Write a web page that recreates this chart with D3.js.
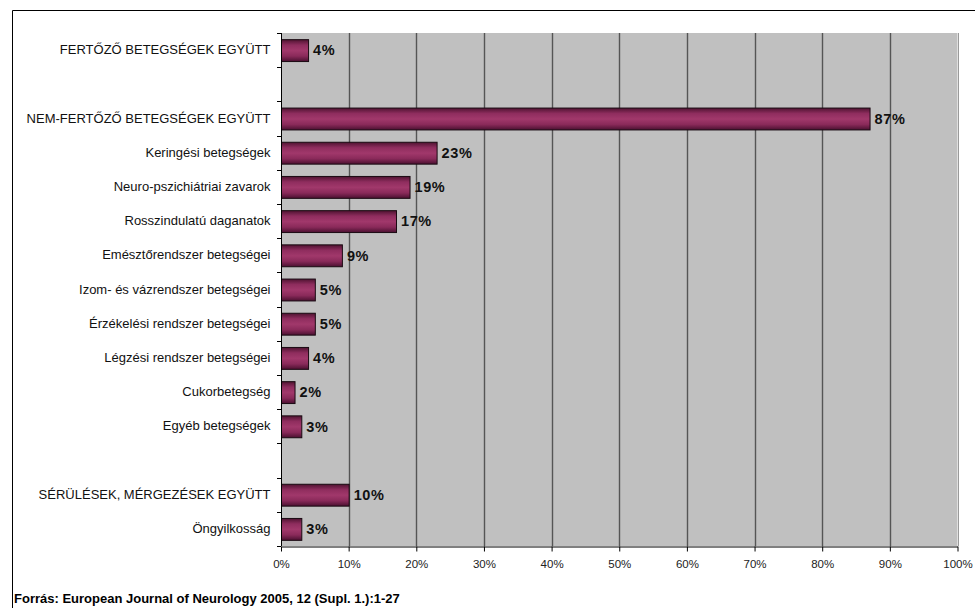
<!DOCTYPE html>
<html>
<head>
<meta charset="utf-8">
<script src="https://cdn.jsdelivr.net/npm/d3@7"></script>
<style>
	body { margin: 0; background: #fff; }
	svg { display: block; font-family: "Liberation Sans", Arial, sans-serif; }
</style>
</head>
<body>
<div id="chart"></div>
<script>
// categories (empty strings are the spacer rows of the original)
var categories = [
	'FERTŐZŐ BETEGSÉGEK EGYÜTT',
	'',
	'NEM-FERTŐZŐ BETEGSÉGEK EGYÜTT',
	'Keringési betegségek',
	'Neuro-pszichiátriai zavarok',
	'Rosszindulatú daganatok',
	'Emésztőrendszer betegségei',
	'Izom- és vázrendszer betegségei',
	'Érzékelési rendszer betegségei',
	'Légzési rendszer betegségei',
	'Cukorbetegség',
	'Egyéb betegségek',
	'',
	'SÉRÜLÉSEK, MÉRGEZÉSEK EGYÜTT',
	'Öngyilkosság'
];
var values = [4, null, 87, 23, 19, 17, 9, 5, 5, 4, 2, 3, null, 10, 3];
var xTicks = [0, 10, 20, 30, 40, 50, 60, 70, 80, 90, 100];
var sourceText = 'Forrás: European Journal of Neurology 2005, 12 (Supl. 1.):1-27';

const width = 975, height = 608;
const plot = {left: 281, right: 957.5, top: 33, bottom: 546};

const svg = d3.select('#chart').append('svg')
	.attr('width', width).attr('height', height);

// bar gradient (3d look of the original)
const grad = svg.append('defs').append('linearGradient')
	.attr('id', 'barGrad').attr('x1', 0).attr('y1', 0).attr('x2', 0).attr('y2', 1);
grad.append('stop').attr('offset', '0%').attr('stop-color', '#4f1331');
grad.append('stop').attr('offset', '25%').attr('stop-color', '#8f2d5e');
grad.append('stop').attr('offset', '50%').attr('stop-color', '#a1386b');
grad.append('stop').attr('offset', '75%').attr('stop-color', '#8a2a5a');
grad.append('stop').attr('offset', '100%').attr('stop-color', '#4a1030');

// outer frame
svg.append('path')
	.attr('d', 'M12.5,' + height + 'V10.5H' + width)
	.attr('fill', 'none').attr('stroke', '#000').attr('stroke-width', 1);

const x = d3.scaleLinear().domain([0, 100]).range([plot.left, plot.right]);
const y = d3.scaleBand()
	.domain(d3.range(categories.length))
	.range([plot.top, plot.bottom])
	.paddingInner(0.36).paddingOuter(0.18);

// plot background
svg.append('rect')
	.attr('x', plot.left).attr('y', plot.top)
	.attr('width', plot.right - plot.left).attr('height', plot.bottom - plot.top)
	.attr('fill', '#c0c0c0');

// gridlines
svg.append('g')
	.selectAll('line').data(xTicks.slice(1)).enter().append('line')
	.attr('x1', d => Math.round(x(d)) + 0.5).attr('x2', d => Math.round(x(d)) + 0.5)
	.attr('y1', plot.top).attr('y2', plot.bottom)
	.attr('stroke', d => d === 100 ? '#9a9a9a' : '#555')
	.attr('stroke-width', d => d === 100 ? 1 : 1.4);

// bars
const rows = categories.map((c, i) => ({i: i, name: c, value: values[i]}))
	.filter(d => d.value != null);

svg.append('g')
	.selectAll('rect').data(rows).enter().append('rect')
	.attr('x', x(0) + 0.5)
	.attr('y', d => y(d.i) + 0.5)
	.attr('width', d => x(d.value) - x(0))
	.attr('height', y.bandwidth())
	.attr('fill', 'url(#barGrad)')
	.attr('stroke', '#1a0a12').attr('stroke-width', 1);

// value labels
svg.append('g')
	.selectAll('text').data(rows).enter().append('text')
	.attr('x', d => x(d.value) + 5)
	.attr('y', d => y(d.i) + y.bandwidth() / 2)
	.attr('dy', '0.36em')
	.attr('font-size', 14.5).attr('font-weight', 'bold')
	.attr('letter-spacing', 0.6)
	.attr('fill', '#111')
	.text(d => d.value + '%');

// y axis
const yAxis = g => g
	.attr('transform', `translate(${plot.left + 0.5}, 0)`)
	.call(d3.axisLeft(y).tickSize(0).tickPadding(11).tickFormat(i => categories[i]))
	.call(g => g.select('.domain').attr('stroke', '#000').attr('d', `M0,${plot.top}V${plot.bottom}`))
	.call(g => g.selectAll('text').attr('font-size', 13).attr('fill', '#111')
		.attr('font-family', '"Liberation Sans", Arial, sans-serif'));
svg.append('g').call(yAxis);

// category separator ticks
const sepTicks = d3.range(categories.length + 1);
const step = (plot.bottom - plot.top) / categories.length;
svg.append('g')
	.selectAll('line').data(sepTicks).enter().append('line')
	.attr('x1', plot.left - 4).attr('x2', plot.left)
	.attr('y1', d => Math.round(plot.top + d * step) + 0.5)
	.attr('y2', d => Math.round(plot.top + d * step) + 0.5)
	.attr('stroke', '#000');

// x axis
const xAxis = g => g
	.attr('transform', `translate(0, ${plot.bottom + 0.5})`)
	.call(d3.axisBottom(x).tickValues(xTicks).tickSize(5).tickPadding(8).tickFormat(d => d + '%').tickSizeOuter(0))
	.call(g => g.select('.domain').attr('stroke', '#000'))
	.call(g => g.selectAll('line').attr('stroke', '#000'))
	.call(g => g.selectAll('text').attr('font-size', 11.5).attr('fill', '#222')
		.attr('font-family', '"Liberation Sans", Arial, sans-serif'));
svg.append('g').call(xAxis);

// source
svg.append('text')
	.attr('x', 14).attr('y', 603)
	.attr('font-size', 13).attr('font-weight', 'bold')
	.attr('fill', '#000')
	.text(sourceText);
</script>
</body>
</html>
